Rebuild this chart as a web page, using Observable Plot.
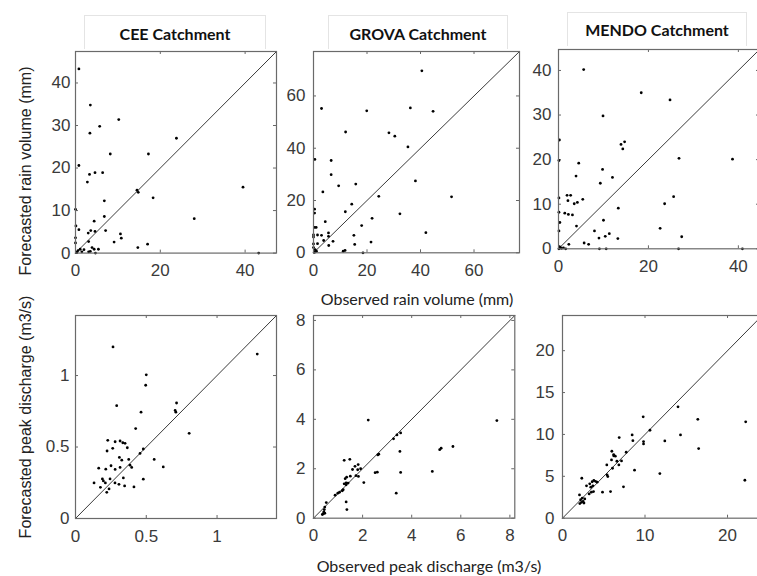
<!DOCTYPE html>
<html><head><meta charset="utf-8">
<script src="https://cdn.jsdelivr.net/npm/d3@7"></script>
<script src="https://cdn.jsdelivr.net/npm/@observablehq/plot@0.6"></script>
<style>
html,body{margin:0;padding:0;background:#fff;}
#wrap{position:relative;width:757px;height:576px;overflow:hidden;background:#fff;}
.box{position:absolute;border:1px solid #e4e4e4;border-bottom:none;box-sizing:border-box;}
.title{position:absolute;font-family:Lato,"Open Sans",sans-serif;font-weight:bold;font-size:16px;color:#111;white-space:nowrap;transform:translate(-50%,-50%);}
.xlab{position:absolute;font-family:Lato,"Open Sans",sans-serif;font-size:16px;color:#222;white-space:nowrap;transform:translate(-50%,-50%);}
.ylab{position:absolute;font-family:"Liberation Sans",Arial,sans-serif;font-size:16px;color:#222;white-space:nowrap;transform:translate(-50%,-50%) rotate(-90deg);}
</style>
</head><body>
<div id="wrap"></div>
<script>
// ---- data (observed, forecasted) ----
const panelTitles = ["CEE Catchment", "GROVA Catchment", "MENDO Catchment"];
const yLabels = ["Forecasted rain volume (mm)", "Forecasted peak discharge (m3/s)"];
const xLabels = ["Observed rain volume (mm)", "Observed peak discharge (m3/s)"];

const ceeRain = [[0.8,43.3],[3.5,34.8],[3.4,28.2],[10.2,31.4],[5.7,29.8],[8.2,23.3],[17.2,23.3],[23.8,27.0],[0.8,20.6],[2.8,16.7],[3.3,18.5],[4.6,18.9],[6.4,18.9],[6.8,12.3],[0,10.3],[6.8,8.6],[4.4,7.5],[0.1,6.4],[0.8,5.5],[3.6,5.3],[4.6,5.1],[3.0,4.7],[7.1,5.3],[0,3.6],[0,2.4],[3.1,2.7],[9.1,2.6],[10.6,4.5],[10.8,3.5],[14.5,14.8],[14.8,14.3],[18.3,13.0],[28.0,8.1],[39.5,15.5],[43.2,0],[14.7,1.3],[17.0,2.1],[3.9,1.3],[4.4,0.9],[5.4,0.9],[4.7,0],[3.5,0.4],[2.0,0.8],[0.3,0.2],[0.6,0.6],[1.1,0.9],[0.2,0.1],[3.1,0.3],[1.5,0.3]];
const grovaRain = [[40.5,69.6],[3.0,55.2],[19.9,54.3],[36.2,55.4],[44.7,54.1],[12.0,46.2],[28.2,45.9],[30.4,44.6],[35.3,40.5],[0.5,35.7],[6.6,35.3],[6.6,29.9],[9.4,25.6],[15.8,26.3],[38.1,27.5],[3.5,23.3],[24.4,21.6],[51.6,21.4],[14.3,18.6],[0.4,16.7],[0.4,15.2],[11.9,15.7],[32.3,14.9],[21.9,13.2],[4.4,11.9],[18.0,10.4],[0.4,9.7],[1.0,9.7],[42.0,7.7],[0,6.8],[1.5,6.8],[3.0,6.7],[5.6,7.6],[5.6,6.3],[15.1,6.7],[7.3,4.4],[3.8,4.7],[5.7,2.8],[1.5,3.5],[15.4,3.2],[21.5,4.1],[11.1,0.6],[11.8,0.9],[18.5,0],[0,6.0],[0,3.4],[0,2.0],[0.6,1.2],[1.1,0.6],[0.3,0.2]];
const mendoRain = [[5.6,40.2],[18.4,35.0],[24.8,33.4],[9.9,29.8],[13.9,23.4],[14.3,22.4],[14.7,24.0],[0.2,24.4],[0.1,19.8],[4.5,19.2],[9.8,17.8],[26.8,20.3],[38.7,20.1],[3.9,16.3],[12.0,16.0],[9.3,14.7],[1.9,12.0],[2.7,12.0],[2.1,10.8],[0.1,11.4],[5.4,11.1],[3.5,10.1],[4.2,10.4],[0.1,8.2],[1.4,8.0],[2.2,7.7],[3.1,7.6],[13.3,9.1],[23.6,10.1],[25.6,11.7],[22.6,4.6],[0.3,5.9],[4.0,5.1],[0.1,4.0],[10.0,6.4],[8.0,4.0],[9.0,2.4],[10.4,2.8],[11.3,3.4],[13.2,2.3],[27.4,2.7],[5.7,1.3],[6.7,1.0],[2.3,1.0],[9.1,0],[10.6,0],[26.7,0],[40.9,0],[0.1,0],[0.4,0.3],[0.7,0.1],[1.1,0.2],[1.6,0],[0.2,0.5]];
const ceeQ = [[0.265,1.20],[1.284,1.15],[0.50,1.005],[0.496,0.932],[0.291,0.789],[0.463,0.744],[0.714,0.808],[0.704,0.756],[0.709,0.744],[0.425,0.629],[0.803,0.596],[0.228,0.547],[0.280,0.537],[0.315,0.542],[0.334,0.53],[0.35,0.526],[0.223,0.472],[0.263,0.491],[0.366,0.495],[0.479,0.486],[0.456,0.455],[0.31,0.427],[0.327,0.408],[0.376,0.413],[0.556,0.413],[0.62,0.361],[0.385,0.373],[0.397,0.357],[0.251,0.369],[0.28,0.343],[0.315,0.357],[0.164,0.352],[0.214,0.345],[0.338,0.284],[0.479,0.275],[0.244,0.277],[0.19,0.277],[0.197,0.263],[0.131,0.249],[0.211,0.249],[0.279,0.249],[0.307,0.239],[0.347,0.228],[0.176,0.218],[0.237,0.207],[0.221,0.183],[0.413,0.221]];
const grovaQ = [[2.23,3.97],[7.47,3.95],[3.55,3.45],[3.40,3.37],[3.26,3.21],[3.52,2.70],[2.66,2.59],[2.62,2.56],[5.68,2.90],[5.20,2.83],[5.14,2.77],[1.25,2.34],[1.48,2.38],[1.82,2.17],[1.69,2.10],[1.80,1.96],[1.92,2.0],[1.59,1.97],[1.73,1.72],[1.50,1.70],[1.83,1.69],[2.05,1.44],[2.51,1.84],[2.60,1.86],[3.55,1.85],[4.84,1.89],[1.35,1.66],[1.29,1.60],[1.33,1.43],[1.25,1.39],[1.33,1.35],[1.41,1.42],[1.21,1.15],[1.17,1.11],[1.06,1.05],[0.99,1.01],[0.88,0.93],[3.37,1.01],[1.33,0.66],[1.36,0.35],[0.52,0.63],[0.46,0.45],[0.44,0.35],[0.42,0.25],[0.40,0.18],[0.46,0.20],[0.36,0.15]];
const mendoQ = [[14.0,13.3],[9.78,12.1],[16.4,11.8],[22.2,11.5],[10.6,10.5],[6.87,9.62],[8.44,9.94],[8.53,9.26],[9.82,9.15],[9.82,8.87],[12.4,9.22],[14.3,9.94],[16.5,8.31],[7.72,7.87],[5.98,7.99],[6.2,7.6],[6.4,7.4],[6.2,7.45],[7.15,6.84],[6.59,6.80],[6.83,6.36],[5.37,6.36],[5.94,6.96],[6.06,5.96],[5.41,5.17],[5.49,4.97],[8.73,5.73],[11.8,5.33],[22.1,4.53],[2.34,4.77],[7.39,3.74],[4.85,3.10],[5.82,3.18],[2.91,3.86],[3.3,4.1],[3.6,4.35],[3.8,4.5],[4.0,4.4],[4.2,4.3],[3.43,3.7],[3.68,3.86],[3.5,3.1],[3.76,3.18],[3.23,2.9],[2.06,2.78],[2.4,2.4],[2.2,2.2],[2.5,2.0],[2.3,1.9],[2.6,1.8],[2.1,1.75],[2.7,2.3]];

const axisMax = [47.4, 77, 44.7, 1.42, 8.2, 24.2];
const xTicksList = [[0,20,40],[0,20,40,60],[0,20,40],[0,0.5,1],[0,2,4,6,8],[0,10,20]];
const yTicksList = [[0,10,20,30,40],[0,20,40,60],[0,10,20,30,40],[0,0.5,1],[0,2,4,6,8],[0,5,10,15,20]];
const datasets = [ceeRain, grovaRain, mendoRain, ceeQ, grovaQ, mendoQ];

// ---- layout (frame boxes) ----
const frames = [
  {L:75.3, T:50.7, W:201, H:201.6, pad:5},
  {L:313.3, T:51, W:206, H:201.3, pad:8},
  {L:558.3, T:49, W:201, H:199.3, pad:7},
  {L:75.3, T:315, W:201, H:203, pad:6},
  {L:312.7, T:315, W:201.3, H:202.7, pad:8},
  {L:561.7, T:315, W:199.7, H:202.7, pad:8}
];

const wrap = document.getElementById("wrap");
const fmt = d => String(d);

function addDiv(cls, text, x, y, extra) {
  const d = document.createElement("div");
  d.className = cls;
  if (text) d.textContent = text;
  d.style.left = x + "px"; d.style.top = y + "px";
  if (extra) Object.assign(d.style, extra);
  wrap.appendChild(d);
  return d;
}

// light screenshot boxes around titles
addDiv("box", "", 84, 15, {width:"182px", height:"34px"});
addDiv("box", "", 328, 15, {width:"180px", height:"34px"});
addDiv("box", "", 567, 12, {width:"180px", height:"34px"});

datasets.forEach((data, i) => {
  const f = frames[i], max = axisMax[i];
  const ml = 50, mr = 6, mt = 6, mb = 36;
  const xt = xTicksList[i], yt = yTicksList[i];
  const chart = Plot.plot({
    width: f.W + ml + mr, height: f.H + mt + mb,
    marginLeft: ml, marginRight: mr, marginTop: mt, marginBottom: mb,
    x: {domain: [0, max]}, y: {domain: [0, max]},
    style: {fontFamily: "'Liberation Sans', Arial, sans-serif", fontSize: "17px", background: "transparent", overflow: "visible"},
    marks: [
      Plot.axisX(xt, {anchor: "bottom", tickSize: 0, tickPadding: 11, tickFormat: fmt, fill: "#3a3a3a", fontSize: 17, label: null}),
      Plot.axisY(yt, {anchor: "left", tickSize: 0, tickPadding: f.pad, tickFormat: fmt, fill: "#3a3a3a", fontSize: 17, label: null}),
      Plot.tickX(xt, {x: d => d, insetTop: f.H - 3, stroke: "#666"}),
      Plot.tickX(xt, {x: d => d, insetBottom: f.H - 3, stroke: "#666"}),
      Plot.tickY(yt, {y: d => d, insetRight: f.W - 3, stroke: "#666"}),
      Plot.tickY(yt, {y: d => d, insetLeft: f.W - 3, stroke: "#666"}),
      Plot.line([0, max], {x: d => d, y: d => d, stroke: "#3a3a3a", strokeWidth: 1}),
      Plot.dot(data, {x: d => d[0], y: d => d[1], r: 1.4, fill: "#000", stroke: null}),
      Plot.frame({stroke: "#6a6a6a", strokeWidth: 1.2})
    ]
  });
  chart.style.position = "absolute";
  chart.style.left = (f.L - ml) + "px";
  chart.style.top = (f.T - mt) + "px";
  wrap.appendChild(chart);
});

// titles
addDiv("title", panelTitles[0], 175, 32.5);
addDiv("title", panelTitles[1], 418, 32.5);
addDiv("title", panelTitles[2], 657, 28.5);
// axis labels
addDiv("ylab", yLabels[0], 26, 171);
addDiv("ylab", yLabels[1], 26, 417);
addDiv("xlab", xLabels[0], 417, 298);
addDiv("xlab", xLabels[1], 429, 565);
</script>
</body></html>
